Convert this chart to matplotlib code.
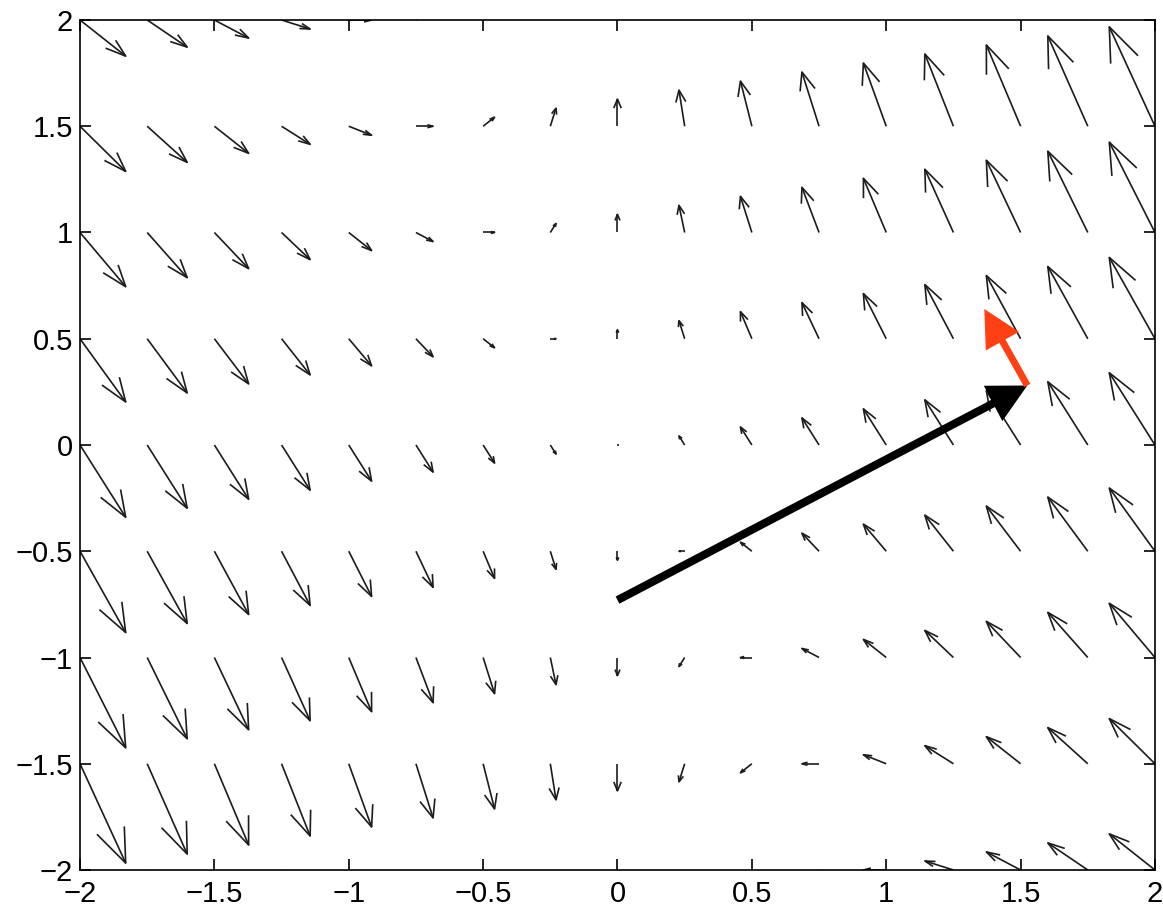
import numpy as np
import matplotlib
matplotlib.use("Agg")
import matplotlib.pyplot as plt
from matplotlib.collections import LineCollection

# grid of the vector field
x_grid = [-2, -1.75, -1.5, -1.25, -1, -0.75, -0.5, -0.25, 0,
          0.25, 0.5, 0.75, 1, 1.25, 1.5, 1.75, 2]
y_grid = [2, 1.5, 1, 0.5, 0, -0.5, -1, -1.5, -2]

# horizontal component (same for every row)
u_cols = [2, 1.75, 1.5, 1.25, 1, 0.75, 0.5, 0.25, 0,
          -0.25, -0.5, -0.75, -1, -1.25, -1.5, -1.75, -2]

# vertical component, one row per y_grid value
v_rows = [
    [-2, -1.5, -1, -0.5, 0, 0.5, 1, 1.5, 2, 2.5, 3, 3.5, 4, 4.5, 5, 5.5, 6],
    [-2.5, -2, -1.5, -1, -0.5, 0, 0.5, 1, 1.5, 2, 2.5, 3, 3.5, 4, 4.5, 5, 5.5],
    [-3, -2.5, -2, -1.5, -1, -0.5, 0, 0.5, 1, 1.5, 2, 2.5, 3, 3.5, 4, 4.5, 5],
    [-3.5, -3, -2.5, -2, -1.5, -1, -0.5, 0, 0.5, 1, 1.5, 2, 2.5, 3, 3.5, 4, 4.5],
    [-4, -3.5, -3, -2.5, -2, -1.5, -1, -0.5, 0, 0.5, 1, 1.5, 2, 2.5, 3, 3.5, 4],
    [-4.5, -4, -3.5, -3, -2.5, -2, -1.5, -1, -0.5, 0, 0.5, 1, 1.5, 2, 2.5, 3, 3.5],
    [-5, -4.5, -4, -3.5, -3, -2.5, -2, -1.5, -1, -0.5, 0, 0.5, 1, 1.5, 2, 2.5, 3],
    [-5.5, -5, -4.5, -4, -3.5, -3, -2.5, -2, -1.5, -1, -0.5, 0, 0.5, 1, 1.5, 2, 2.5],
    [-6, -5.5, -5, -4.5, -4, -3.5, -3, -2.5, -2, -1.5, -1, -0.5, 0, 0.5, 1, 1.5, 2],
]

# highlighted arrows: position vector and field vector at its tip
pos_start = (0.0, -0.73)
pos_end = (1.525, 0.28)
vel_end = (1.365, 0.64)

ticks = [-2, -1.5, -1, -0.5, 0, 0.5, 1, 1.5, 2]
tick_labels = ['\u22122', '\u22121.5', '\u22121', '\u22120.5', '0', '0.5', '1', '1.5', '2']

plt.rcParams['font.family'] = ['Liberation Sans', 'DejaVu Sans']

fig = plt.figure(figsize=(11.63, 9.09), dpi=100)
ax = fig.add_axes([0.0688, 0.0429, 0.9243, 0.9351])

# matlab style quiver: shaft + open head
scale = 0.085
alpha, beta = 0.33, 0.33
segs = []
for i, yv in enumerate(y_grid):
    for j, xv in enumerate(x_grid):
        u = u_cols[j] * scale
        v = v_rows[i][j] * scale
        if u == 0 and v == 0:
            segs.append([(xv, yv), (xv + 0.004, yv)])
            continue
        tip = (xv + u, yv + v)
        segs.append([(xv, yv), tip])
        h1 = (tip[0] - alpha * (u + beta * v), tip[1] - alpha * (v - beta * u))
        h2 = (tip[0] - alpha * (u - beta * v), tip[1] - alpha * (v + beta * u))
        segs.append([h1, tip, h2])

lc = LineCollection(segs, colors='#1c1c1c', linewidths=1.2)
ax.add_collection(lc)

head = '-|>,head_length=0.62,head_width=0.32'
ax.annotate('', xy=pos_end, xytext=pos_start,
            arrowprops=dict(arrowstyle=head, lw=5.8, color='black',
                            mutation_scale=30, shrinkA=0, shrinkB=0,
                            joinstyle='miter', capstyle='butt'))
ax.annotate('', xy=vel_end, xytext=pos_end,
            arrowprops=dict(arrowstyle=head, lw=5, color='#ff4015',
                            mutation_scale=30, shrinkA=0, shrinkB=0,
                            joinstyle='miter', capstyle='butt'))

ax.set_xlim(-2, 2)
ax.set_ylim(-2, 2)
ax.set_xticks(ticks)
ax.set_yticks(ticks)
ax.set_xticklabels(tick_labels)
ax.set_yticklabels(tick_labels)
ax.tick_params(direction='in', length=8, width=1.2, top=True, right=True,
               labelsize=21)
ax.tick_params(axis='x', pad=7)
ax.tick_params(axis='y', pad=5)
for sp in ax.spines.values():
    sp.set_linewidth(1.2)

fig.savefig('out.png', dpi=100)
